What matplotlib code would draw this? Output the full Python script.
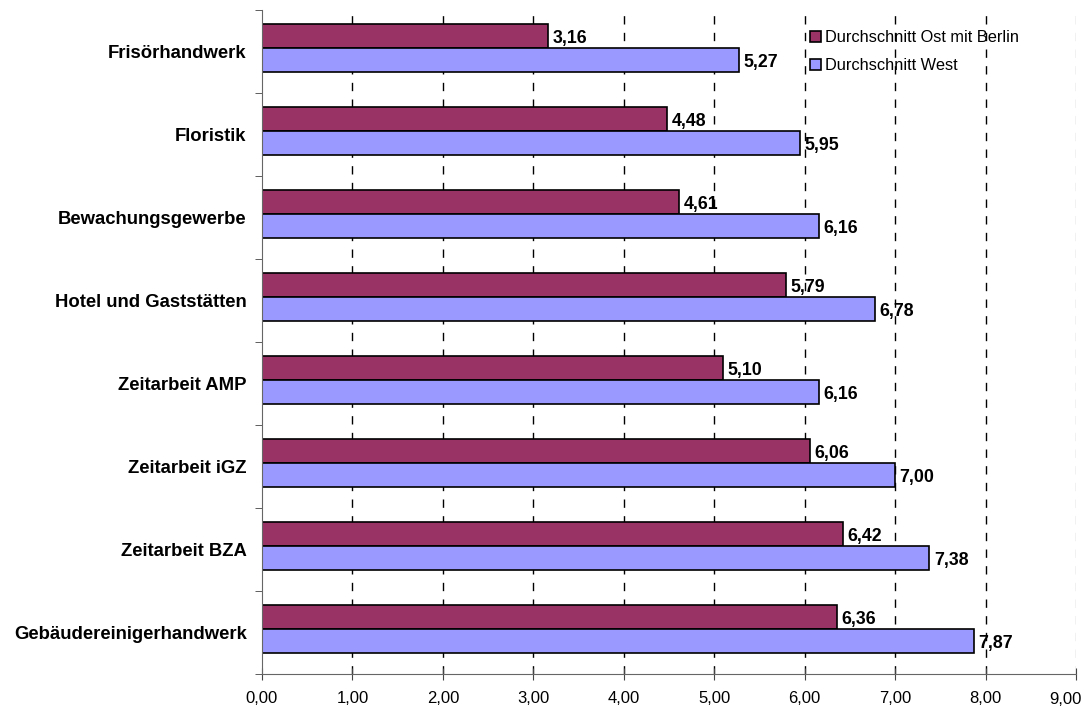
import matplotlib
matplotlib.use('agg')
import matplotlib.pyplot as plt
import numpy as np

categories = ['Frisörhandwerk', 'Floristik', 'Bewachungsgewerbe', 'Hotel und Gaststätten',
              'Zeitarbeit AMP', 'Zeitarbeit iGZ', 'Zeitarbeit BZA', 'Gebäudereinigerhandwerk']
ost = [3.16, 4.48, 4.61, 5.79, 5.10, 6.06, 6.42, 6.36]
west = [5.27, 5.95, 6.16, 6.78, 6.16, 7.00, 7.38, 7.87]
xticks = [0, 1, 2, 3, 4, 5, 6, 7, 8, 9]

plt.rcParams['font.family'] = ['Liberation Sans', 'DejaVu Sans']

fig = plt.figure(figsize=(10.88, 7.09), dpi=100)
ax = fig.add_axes([262/1088, 1 - 674/709, (1076 - 262)/1088, 664/709])

n = len(categories)
y = np.arange(n)[::-1].astype(float)
h = 0.29
off = 0.04

# dashed vertical gridlines
for xv in xticks[1:]:
    ax.axvline(xv, color='black' if xv < 9 else '#bbbbbb', linestyle=(0, (6, 6)), linewidth=1, zorder=0)

b1 = ax.barh(y + off + h/2, ost, height=h, color='#993366', edgecolor='black', linewidth=1.2,
             label='Durchschnitt Ost mit Berlin', zorder=2)
b2 = ax.barh(y + off - h/2, west, height=h, color='#9999FF', edgecolor='black', linewidth=1.2,
             label='Durchschnitt West', zorder=2)

for bars, vals in ((b1, ost), (b2, west)):
    for rect, v in zip(bars, vals):
        ax.text(v + 0.05, rect.get_y() + rect.get_height()/2 - 0.03, f'{v:.2f}'.replace('.', ','),
                ha='left', va='center', fontsize=12.8, fontweight='bold', zorder=3)

ax.set_xlim(0, 9)
ax.set_ylim(-0.5, n - 0.5)
ax.set_xticks(xticks)
xlabels = [f'{v:.2f}'.replace('.', ',') for v in xticks]
# last label is drawn by hand, pushed left so it fits inside the figure
ax.set_xticklabels(xlabels[:-1] + [''], fontsize=12)
ax.annotate(xlabels[-1], xy=(xticks[-1], 0), xycoords=('data', 'axes fraction'),
            xytext=(6, -18), textcoords='offset pixels', ha='right', va='top', fontsize=12)
ax.set_yticks(y)
ax.set_yticklabels(categories, fontsize=13.3, fontweight='bold')
ax.tick_params(axis='y', which='major', length=0, pad=11)
ax.set_yticks(np.arange(-0.5, n, 1.0), minor=True)
ax.tick_params(axis='y', which='minor', length=5, direction='out', color='#444444')
ax.tick_params(axis='x', which='major', length=8, direction='inout', pad=8, color='#444444')

for s in ('top', 'right'):
    ax.spines[s].set_visible(False)
ax.spines['left'].set_color('#666666')
ax.spines['bottom'].set_color('#666666')

leg = ax.legend(loc='upper left', bbox_to_anchor=(533/814, 0.992), frameon=False, fontsize=11.8,
                handlelength=0.7, handleheight=0.7, handletextpad=0.25, labelspacing=0.8)

fig.savefig('out.png', dpi=100)
